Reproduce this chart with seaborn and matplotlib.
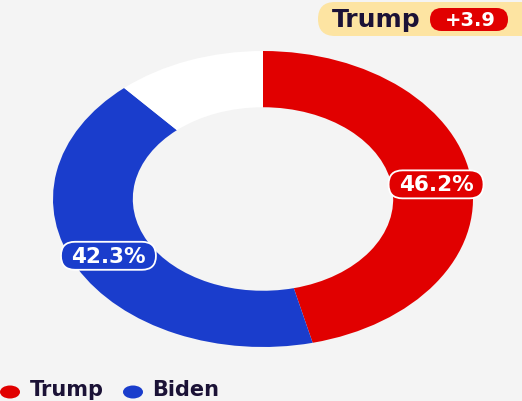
import matplotlib
matplotlib.use("Agg")
import matplotlib.pyplot as plt
import seaborn as sns
import numpy as np
from matplotlib.patches import FancyBboxPatch, Ellipse

# Poll shares
candidates = ["Trump", "Biden", "Other"]
shares = [46.2, 42.3, 11.5]
colors = ["#e10000", "#1a3dcc", "#ffffff"]
labelled = ["Trump", "Biden"]
leader = "Trump"
margin = "+3.9"

bg = "#f4f4f4"
ink = "#1b1236"

sns.set_theme(style="white", rc={"figure.facecolor": bg, "axes.facecolor": bg})
plt.rcParams["font.family"] = ["DejaVu Sans"]

W, H = 522, 401
fig = plt.figure(figsize=(W / 100, H / 100), dpi=100)

# Donut (stretched horizontally: axes are wider than tall, aspect left free)
ax = fig.add_axes([53 / W, (H - 347) / H, 420 / W, 296 / H])
wedges, _ = ax.pie(shares, colors=colors, startangle=90, counterclock=False,
                   radius=1, wedgeprops=dict(width=0.38, linewidth=0))
ax.set_aspect("auto")
ax.set_xlim(-1, 1)
ax.set_ylim(-1, 1)
ax.axis("off")

# Overlay in pixel units for the value pills, badge and legend
ov = fig.add_axes([0, 0, 1, 1], zorder=3)
ov.set_xlim(0, W)
ov.set_ylim(H, 0)
ov.axis("off")
ov.patch.set_alpha(0)

fig.canvas.draw()
to_px = ax.transData + ov.transData.inverted()

pill_w, pill_h = 95, 28
for w, name, val, col in zip(wedges, candidates, shares, colors):
    if name not in labelled:
        continue
    ang = np.deg2rad((w.theta1 + w.theta2) / 2)
    r = 0.83
    px, py = to_px.transform((r * np.cos(ang), r * np.sin(ang)))
    ov.add_patch(FancyBboxPatch((px - pill_w / 2, py - pill_h / 2), pill_w, pill_h,
                                boxstyle=f"round,pad=0,rounding_size={pill_h / 2}",
                                fc=col, ec="white", lw=1.3))
    ov.text(px, py + 1, f"{val}%", ha="center", va="center", color="white",
            fontsize=15.5, fontweight="bold")

# Leader badge
ov.add_patch(FancyBboxPatch((318, 2), 240, 34, boxstyle="round,pad=0,rounding_size=17",
                            fc="#fde4a2", ec="none"))
ov.text(332, 20, leader, ha="left", va="center", color=ink, fontsize=18,
        fontweight="bold")
ov.add_patch(FancyBboxPatch((430, 8), 78, 23, boxstyle="round,pad=0,rounding_size=11.5",
                            fc=colors[0], ec="none"))
ov.text(470, 20, margin, ha="center", va="center", color="white", fontsize=14,
        fontweight="bold")

# Legend
for cx, tx, name, col in [(10, 30, "Trump", colors[0]), (133, 152, "Biden", colors[1])]:
    ov.add_patch(Ellipse((cx, 392), 20, 13, fc=col, ec="none"))
    ov.text(tx, 390, name, ha="left", va="center", color=ink, fontsize=15,
            fontweight="bold")

fig.savefig("out.png", dpi=100, facecolor=bg)
